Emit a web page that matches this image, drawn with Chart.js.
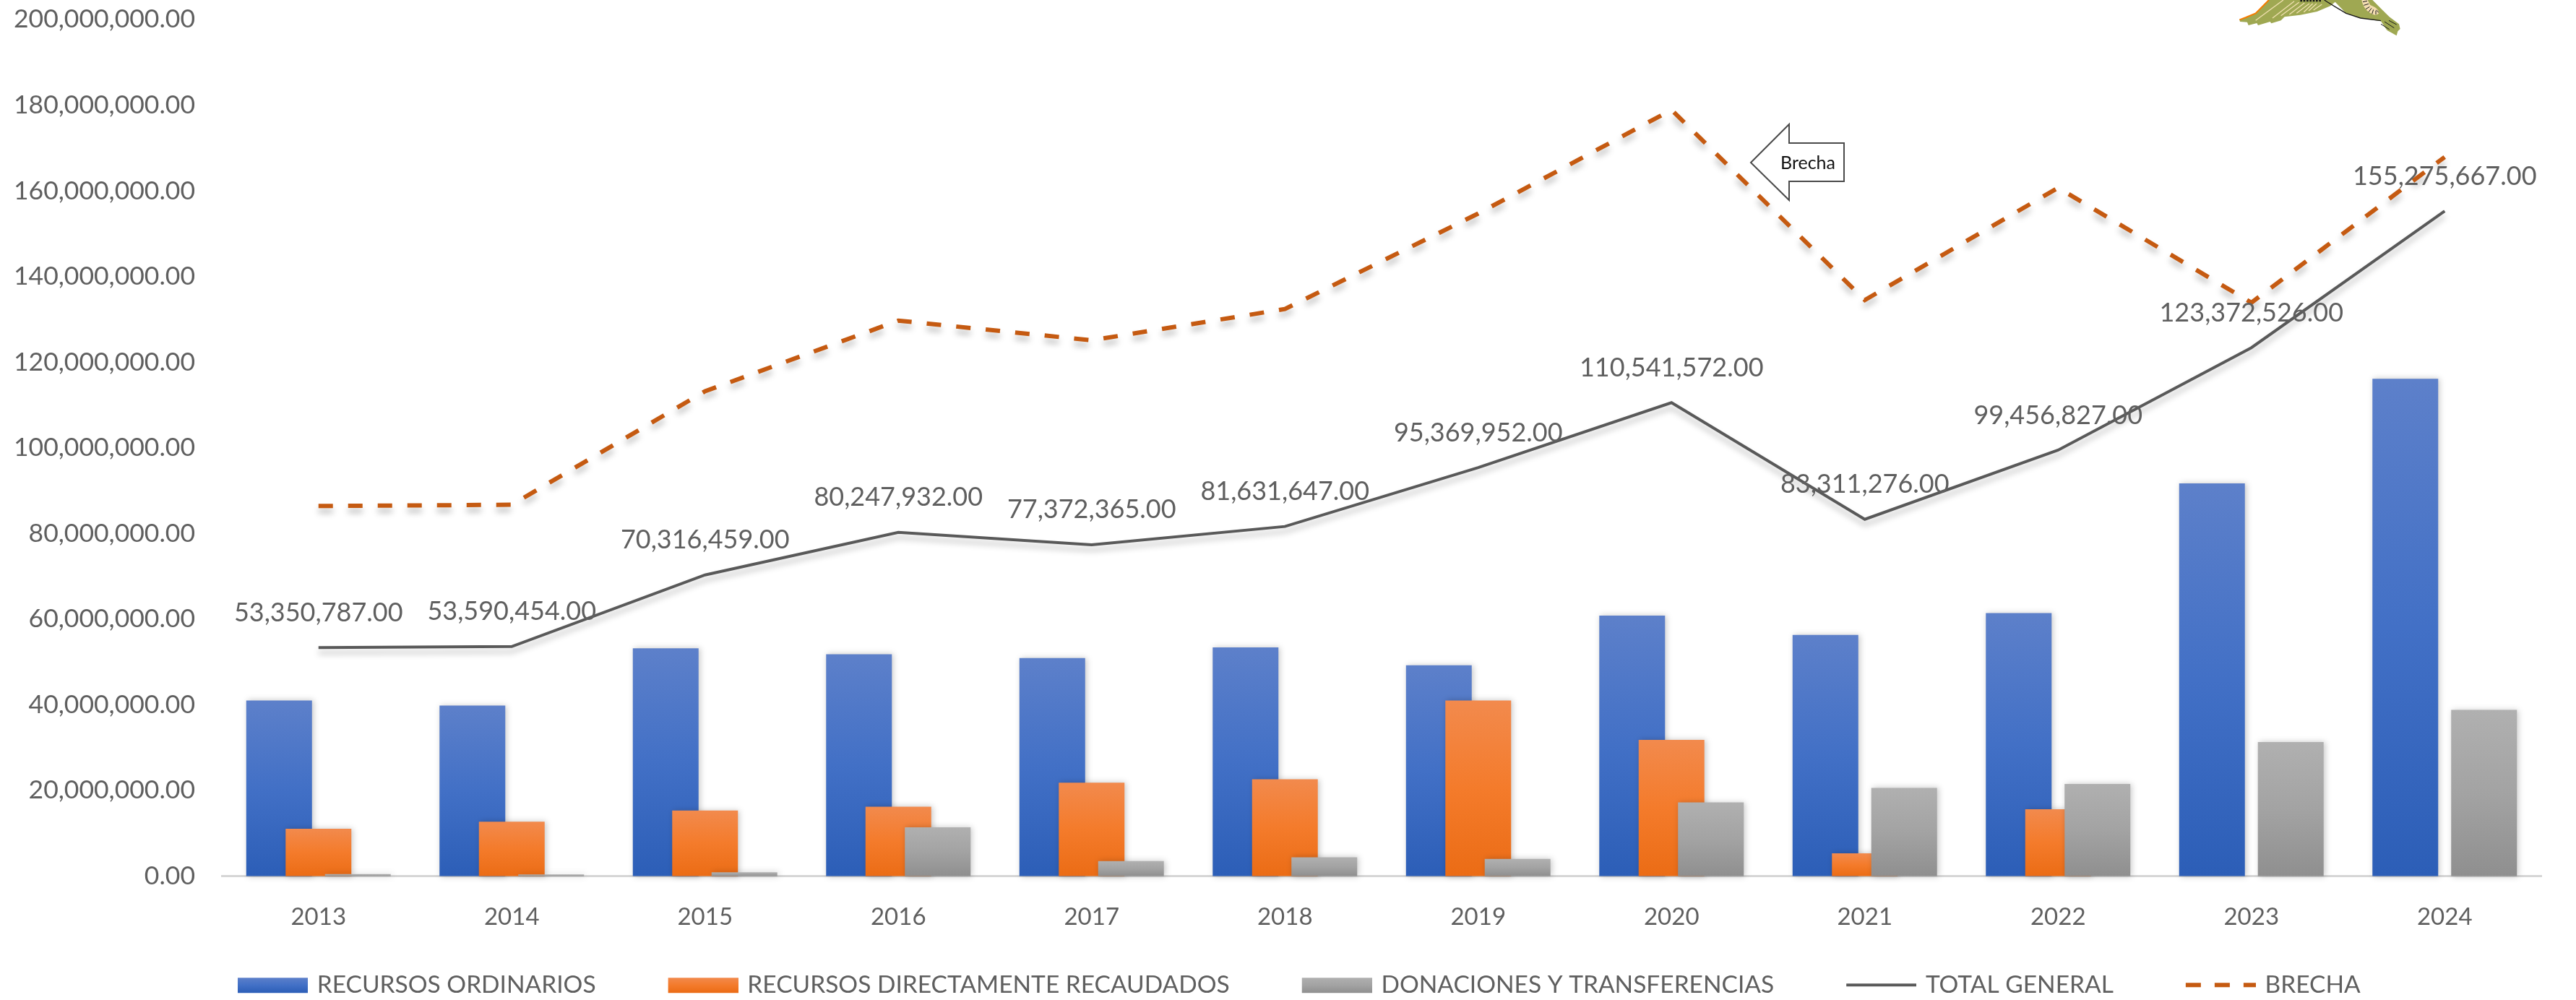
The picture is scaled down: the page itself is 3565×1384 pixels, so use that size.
<!DOCTYPE html>
<html lang="es">
<head>
<meta charset="utf-8">
<title>Recursos por fuente de financiamiento</title>
<script src="https://cdn.jsdelivr.net/npm/chart.js@4"></script>
<style>
html,body{margin:0;padding:0;background:#fff;overflow:hidden}
#wrap{position:relative;width:3565px;height:1384px}
canvas{display:block;filter:blur(.6px)}
svg{position:absolute;left:3050px;top:0}
</style>
</head>
<body>
<div id="wrap">
<canvas id="c" width="3565" height="1384"></canvas>
<svg width="320" height="60" viewBox="0 0 960 180" aria-hidden="true">
<path fill="#9FA852" d="M270,0 L215,55 L175,72 L148,82 L150,90 L180,92 L185,105 L220,96 L225,105 L275,90 L280,97 L320,85 L335,70 L400,62 L470,48 L525,25 L545,8 L590,55 L650,75 L735,88 L760,125 L800,148 L805,130 L815,120 L810,100 L770,70 L735,35 L700,0 Z"/>
<path fill="none" stroke="#F57C00" stroke-width="6" d="M270,0 L215,55 L175,72 L148,82"/>
<path fill="none" stroke="#F0E0B0" stroke-width="4" d="M330,0 L215,85 M375,5 L285,75 M395,10 L320,65 M418,12 L355,60 M438,15 L385,55 M452,15 L415,50 M468,15 L435,45 M490,18 L455,42"/>
<path fill="none" stroke="#1a1a1a" stroke-width="4" d="M500,0 C530,20 550,30 590,55 L650,75 L735,86"/>
<path fill="none" stroke="#1a1a1a" stroke-width="7" stroke-dasharray="8 5" d="M400,3 H490"/>
<path fill="#F3DDB0" d="M655,0 C660,30 680,55 710,62 C735,60 730,45 710,30 L690,20 L680,0 Z"/>
<path fill="none" stroke="#1a1a1a" stroke-width="3" d="M660,8 L678,4 M664,22 L684,16 M672,38 L688,28 M684,50 L696,34 M698,58 L704,40 M714,60 L714,44 M726,52 L716,42"/>
<path fill="none" stroke="#1a1a1a" stroke-width="3" d="M735,100 L770,122 M750,90 L790,116 M768,85 L800,102"/>
</svg>
</div>
<script>
const years = ['2013','2014','2015','2016','2017','2018','2019','2020','2021','2022','2023','2024'];
const recursosOrdinarios = [41000000,39800000,53200000,51800000,50900000,53400000,49200000,60800000,56300000,61400000,91700000,116100000];
const recursosDirectamente = [11060000,12700000,15300000,16200000,21800000,22600000,41000000,31800000,5300000,15600000,0,0];
const donaciones = [450000,400000,900000,11400000,3500000,4400000,4000000,17200000,20600000,21500000,31300000,38800000];
const totalGeneral = [53350787,53590454,70316459,80247932,77372365,81631647,95369952,110541572,83311276,99456827,123372526,155275667];
const brecha = [86400000,86700000,113200000,129700000,125100000,132400000,154700000,178900000,134500000,160700000,133900000,167900000];
const seriesNames = ['RECURSOS ORDINARIOS','RECURSOS DIRECTAMENTE RECAUDADOS','DONACIONES Y TRANSFERENCIAS','TOTAL GENERAL','BRECHA'];

const FONT = 'Lato, "Open Sans", sans-serif';
const GREY = '#5f5f5f';
const BLUE = ['#5D80CA','#4270C6','#2C5EB7'];
const ORANGE = ['#F28A4D','#F47B2B','#EB6C15'];
const SILVER = ['#B0B0B0','#A3A3A3','#8F8F8F'];
const money = v => Number(v).toLocaleString('en-US',{minimumFractionDigits:2,maximumFractionDigits:2});

function barFill(stops){
  return function(ctx){
    if(ctx.type!=='data' || !ctx.chart.scales.y) return stops[1];
    const s = ctx.chart.scales.y;
    const g = ctx.chart.ctx.createLinearGradient(0,s.getPixelForValue(ctx.raw),0,s.getPixelForValue(0));
    g.addColorStop(0,stops[0]); g.addColorStop(.5,stops[1]); g.addColorStop(1,stops[2]);
    return g;
  };
}

const SWATCH_W = 197, SWATCH_H = 30, BOX_W = 97, LEGEND_BOX = 189;
function swatch(kind,stops){
  const cv = document.createElement('canvas');
  cv.width = SWATCH_W; cv.height = SWATCH_H;
  const x = cv.getContext('2d'), x0 = SWATCH_W-BOX_W, cy = SWATCH_H/2;
  if(kind==='bar'){
    const g = x.createLinearGradient(0,cy-10,0,cy+11);
    g.addColorStop(0,stops[0]); g.addColorStop(.5,stops[1]); g.addColorStop(1,stops[2]);
    x.fillStyle = g; x.fillRect(x0,cy-10,BOX_W,21);
  }else if(kind==='line'){
    x.strokeStyle='#595959'; x.lineWidth=4;
    x.beginPath(); x.moveTo(x0,cy); x.lineTo(SWATCH_W,cy); x.stroke();
  }else{
    x.strokeStyle='#C55A11'; x.lineWidth=6; x.setLineDash([21,19]);
    x.beginPath(); x.moveTo(x0,cy); x.lineTo(SWATCH_W,cy); x.stroke();
  }
  return cv;
}
const swatches = [swatch('bar',BLUE),swatch('bar',ORANGE),swatch('bar',SILVER),swatch('line'),swatch('dash')];

const layering = {
  id:'layering',
  beforeDatasetsDraw(chart){
    const c = chart.ctx;
    [0,1,2].forEach(i=>{
      c.save();
      c.shadowColor='rgba(0,0,0,.22)'; c.shadowBlur=8; c.shadowOffsetX=2; c.shadowOffsetY=0;
      chart.getDatasetMeta(i).controller.draw();
      c.restore();
    });
  },
  beforeDatasetDraw(chart,args){
    if(args.index<3) return false;
    const c = chart.ctx;
    c.save();
    c.shadowColor='rgba(0,0,0,.26)'; c.shadowBlur=9; c.shadowOffsetY=7;
  },
  afterDatasetDraw(chart,args){
    if(args.index>=3) chart.ctx.restore();
  },
  afterLayout(chart){
    const l = chart.legend;
    l.left = 229;
    l.top += 6; l.bottom += 6;
  }
};

const totalLabels = {
  id:'totalLabels',
  afterDatasetsDraw(chart){
    const c = chart.ctx, meta = chart.getDatasetMeta(3);
    c.save();
    c.font = '36px '+FONT; c.fillStyle = GREY;
    c.textAlign='center'; c.textBaseline='middle';
    meta.data.forEach((pt,i)=>c.fillText(money(totalGeneral[i]),pt.x,pt.y-48));
    c.restore();
  }
};

const callout = {
  id:'callout',
  afterDraw(chart){
    const c = chart.ctx;
    c.save();
    c.beginPath();
    c.moveTo(2423,225); c.lineTo(2476,172); c.lineTo(2476,198); c.lineTo(2552,198);
    c.lineTo(2552,251); c.lineTo(2476,251); c.lineTo(2476,277); c.closePath();
    c.fillStyle='#fff'; c.fill();
    c.strokeStyle='#4a4a4a'; c.lineWidth=2; c.stroke();
    c.fillStyle='#111'; c.font='25px '+FONT; c.textAlign='center'; c.textBaseline='middle';
    c.fillText('Brecha',2502,226);
    c.restore();
  }
};

new Chart(document.getElementById('c'),{
  type:'bar',
  data:{
    labels:years,
    datasets:[
      {label:seriesNames[0],data:recursosOrdinarios,order:2,backgroundColor:barFill(BLUE),categoryPercentage:.611,barPercentage:1.67},
      {label:seriesNames[1],data:recursosDirectamente,order:3,backgroundColor:barFill(ORANGE),categoryPercentage:.611,barPercentage:1.67},
      {label:seriesNames[2],data:donaciones,order:4,backgroundColor:barFill(SILVER),categoryPercentage:.611,barPercentage:1.67},
      {type:'line',label:seriesNames[3],data:totalGeneral,order:1,borderColor:'#595959',borderWidth:4,pointRadius:0,tension:0,fill:false,clip:false},
      {type:'line',label:seriesNames[4],data:brecha,order:0,borderColor:'#C55A11',borderWidth:6,borderDash:[20,21],pointRadius:0,tension:0,fill:false,clip:false}
    ]
  },
  options:{
    responsive:false,
    animation:false,
    devicePixelRatio:1,
    layout:{padding:{top:27,right:48,left:0,bottom:0}},
    plugins:{
      tooltip:{enabled:false},
      legend:{
        position:'bottom',
        align:'start',
        labels:{
          usePointStyle:true,
          pointStyleWidth:LEGEND_BOX,
          padding:4,
          color:GREY,
          font:{family:FONT,size:33.5},
          generateLabels:chart=>chart.data.datasets.map((d,i)=>({
            text:d.label,datasetIndex:i,hidden:false,pointStyle:swatches[i],fontColor:GREY,lineWidth:0,
            fillStyle:'transparent',strokeStyle:'transparent'
          }))
        }
      }
    },
    scales:{
      x:{
        grid:{display:false,drawTicks:false},
        border:{color:'#D6D6D6',width:3},
        ticks:{color:GREY,font:{family:FONT,size:33},padding:37,maxRotation:0},
        afterFit(s){ s.height = 124; }
      },
      y:{
        min:0,max:200000000,
        grid:{display:false,drawTicks:false},
        border:{display:false},
        ticks:{stepSize:20000000,color:GREY,font:{family:FONT,size:35.5},padding:37,callback:v=>money(v)},
        afterFit(s){ s.width = 307; s.paddingTop = 0; s.paddingBottom = 0; }
      }
    }
  },
  plugins:[layering,totalLabels,callout]
});
</script>
</body>
</html>
